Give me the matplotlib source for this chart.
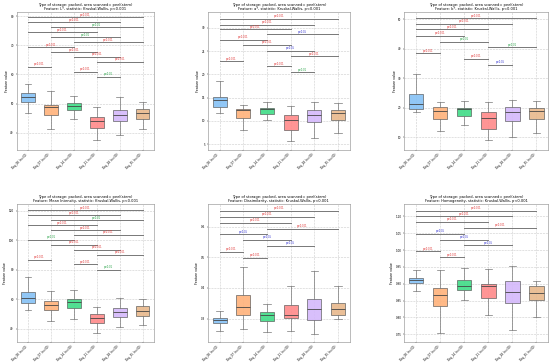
import numpy as np
import matplotlib
matplotlib.use('Agg')
import matplotlib.pyplot as plt

# ---- Data ----
GROUPS = ['Day_00 (n=30)', 'Day_07 (n=30)', 'Day_14 (n=30)',
          'Day_21 (n=30)', 'Day_28 (n=30)', 'Day_35 (n=30)']
FEATURES = ['L*', 'a*', 'b*', 'Mean Intensity', 'Dissimilarity', 'Homogeneity']

# per feature: whisker low, q1, median, q3, whisker high
whislo = [
    [46.9, 41.5, 44.7, 37.6, 39.3, 41.25],
    [11.7, 8.0, 10.2, 5.65, 6.4, 7.5],
    [18.7, 12.3, 14.2, 9.0, 10.1, 11.6],
    [52.5, 45.4, 46.6, 37.1, 41.1, 42.3],
    [0.260, 0.266, 0.255, 0.259, 0.250, 0.297],
    [0.878, 0.754, 0.853, 0.808, 0.764, 0.801],
]
q1 = [
    [50.5, 46.25, 47.8, 41.6, 44.0, 44.7],
    [12.9, 10.6, 11.5, 8.0, 9.7, 10.2],
    [19.6, 16.3, 17.2, 12.9, 15.5, 16.3],
    [57.4, 52.5, 54.0, 43.6, 47.7, 48.4],
    [0.285, 0.311, 0.293, 0.302, 0.294, 0.310],
    [0.901, 0.834, 0.881, 0.859, 0.842, 0.852],
]
med = [
    [52.3, 48.75, 49.1, 44.2, 46.0, 46.9],
    [14.5, 12.3, 12.5, 10.2, 11.3, 11.7],
    [21.4, 18.8, 19.5, 16.7, 18.7, 18.8],
    [61.1, 56.1, 57.9, 47.5, 51.6, 52.0],
    [0.295, 0.338, 0.313, 0.313, 0.331, 0.332],
    [0.912, 0.866, 0.894, 0.892, 0.875, 0.873],
]
q3 = [
    [53.5, 49.7, 50.3, 45.6, 47.7, 48.1],
    [15.2, 12.6, 12.8, 11.3, 12.4, 12.4],
    [24.6, 20.3, 19.9, 18.6, 20.4, 19.9],
    [64.7, 58.6, 60.2, 49.7, 53.8, 55.4],
    [0.302, 0.377, 0.322, 0.344, 0.363, 0.352],
    [0.917, 0.888, 0.910, 0.900, 0.908, 0.892],
]
whishi = [
    [56.6, 54.2, 52.8, 48.75, 52.4, 50.5],
    [18.65, 13.4, 14.0, 13.2, 14.0, 13.8],
    [31.5, 22.0, 22.5, 22.0, 22.8, 22.5],
    [74.9, 65.6, 66.3, 54.7, 61.1, 60.4],
    [0.326, 0.470, 0.349, 0.406, 0.455, 0.407],
    [0.942, 0.940, 0.948, 0.943, 0.952, 0.908],
]

# significant pairs: (group i, group j, bracket height, label)
pairs = [
    [(0, 5, 79.6, 'p<0.001'), (0, 4, 77.8, 'p<0.001'), (1, 5, 76.1, 'p<0.01'),
     (0, 3, 74.4, 'p<0.001'), (1, 4, 72.7, 'p<0.01'), (2, 5, 71.0, 'p<0.001'),
     (0, 2, 69.3, 'p<0.001'), (1, 3, 67.6, 'p<0.001'), (2, 4, 66.0, 'p<0.001'),
     (3, 5, 64.3, 'p<0.001'), (0, 1, 62.6, 'p<0.001'), (2, 3, 60.9, 'p<0.001'),
     (3, 4, 59.2, 'p<0.01')],
    [(0, 5, 31.9, 'p<0.001'), (0, 4, 30.6, 'p<0.001'), (0, 3, 29.7, 'p<0.001'),
     (2, 5, 28.6, 'p<0.05'), (0, 2, 27.4, 'p<0.001'), (1, 3, 26.3, 'p<0.001'),
     (2, 4, 25.1, 'p<0.05'), (3, 5, 23.9, 'p<0.001'), (0, 1, 22.8, 'p<0.001'),
     (2, 3, 21.7, 'p<0.001'), (3, 4, 20.5, 'p<0.01')],
    [(0, 5, 50.3, 'p<0.001'), (0, 4, 48.5, 'p<0.001'), (0, 3, 46.6, 'p<0.001'),
     (0, 2, 44.5, 'p<0.001'), (1, 3, 42.4, 'p<0.01'), (3, 5, 40.5, 'p<0.01'),
     (0, 1, 38.5, 'p<0.001'), (2, 3, 36.6, 'p<0.001'), (3, 4, 34.7, 'p<0.05')],
    [(0, 5, 120.5, 'p<0.001'), (0, 4, 117.1, 'p<0.001'), (1, 5, 113.7, 'p<0.01'),
     (0, 3, 110.3, 'p<0.001'), (1, 4, 106.9, 'p<0.001'), (2, 5, 103.7, 'p<0.001'),
     (0, 2, 100.3, 'p<0.01'), (1, 3, 96.9, 'p<0.001'), (2, 4, 93.7, 'p<0.001'),
     (3, 5, 90.3, 'p<0.001'), (0, 1, 86.9, 'p<0.001'), (2, 3, 83.7, 'p<0.001'),
     (3, 4, 80.1, 'p<0.01')],
    [(0, 5, 0.652, 'p<0.001'), (0, 4, 0.632, 'p<0.001'), (0, 3, 0.613, 'p<0.001'),
     (2, 5, 0.594, 'p<0.001'), (0, 2, 0.576, 'p<0.05'), (1, 3, 0.557, 'p<0.05'),
     (2, 4, 0.538, 'p<0.05'), (0, 1, 0.519, 'p<0.001'), (1, 2, 0.499, 'p<0.001')],
    [(0, 5, 1.116, 'p<0.001'), (0, 4, 1.100, 'p<0.001'), (0, 3, 1.083, 'p<0.001'),
     (2, 5, 1.066, 'p<0.001'), (0, 2, 1.049, 'p<0.05'), (1, 3, 1.031, 'p<0.05'),
     (2, 4, 1.014, 'p<0.05'), (0, 1, 0.996, 'p<0.001'), (1, 2, 0.979, 'p<0.001')],
]

ylims = [(34.2, 81.4), (3.8, 33.4), (5.8, 52.5),
         (30.9, 124.5), (0.223, 0.674), (0.727, 1.136)]
yticks = [
    [40, 50, 60, 70, 80],
    [5, 10, 15, 20, 25, 30],
    [10, 20, 30, 40, 50],
    [40, 60, 80, 100, 120],
    [0.3, 0.4, 0.5, 0.6],
    [0.75, 0.80, 0.85, 0.90, 0.95, 1.00, 1.05, 1.10],
]
ytick_fmt = ['{:.0f}', '{:.0f}', '{:.0f}', '{:.0f}', '{:.1f}', '{:.2f}']

BOX_COLORS = ['#85c1f5', '#ffb27a', '#3fdc86', '#ff8a8a', '#d4b8fb', '#e8b88c']
P_COLORS = {'p<0.001': '#e03030', 'p<0.01': '#20a040', 'p<0.05': '#3030d0'}

# axes placement (figure fraction), matches the 2x3 mosaic
positions = [
    [0.030, 0.586, 0.250, 0.381],
    [0.378, 0.586, 0.258, 0.381],
    [0.735, 0.586, 0.262, 0.381],
    [0.030, 0.055, 0.250, 0.381],
    [0.378, 0.055, 0.258, 0.381],
    [0.735, 0.055, 0.262, 0.381],
]

fig = plt.figure(figsize=(5.5, 3.62), dpi=100)

for k, feat in enumerate(FEATURES):
    ax = fig.add_axes(positions[k])
    stats = []
    for g in range(len(GROUPS)):
        stats.append({'med': med[k][g], 'q1': q1[k][g], 'q3': q3[k][g],
                      'whislo': whislo[k][g], 'whishi': whishi[k][g],
                      'fliers': []})
    bp = ax.bxp(stats, positions=np.arange(len(GROUPS)), widths=0.6,
                patch_artist=True, showfliers=False,
                boxprops=dict(edgecolor='#555555', linewidth=0.5),
                medianprops=dict(color='#444444', linewidth=0.6),
                whiskerprops=dict(color='#777777', linewidth=0.5),
                capprops=dict(color='#777777', linewidth=0.5))
    for patch, c in zip(bp['boxes'], BOX_COLORS):
        patch.set_facecolor(c)
        patch.set_alpha(0.9)

    span = ylims[k][1] - ylims[k][0]
    for i, j, h, lab in pairs[k]:
        ax.plot([i, j], [h, h], color='#777777', linewidth=0.7)
        ax.text((i + j) / 2, h + span * 0.004, lab, ha='center', va='bottom',
                fontsize=1.8, color=P_COLORS[lab])

    ax.set_ylim(*ylims[k])
    ax.set_xlim(-0.5, len(GROUPS) - 0.5)
    ax.set_yticks(yticks[k])
    ax.set_yticklabels([ytick_fmt[k].format(v) for v in yticks[k]], fontsize=2.0)
    ax.set_xticks(np.arange(len(GROUPS)))
    ax.set_xticklabels(GROUPS, rotation=45, ha='right', fontsize=2.0)
    ax.tick_params(length=1, width=0.3, pad=1)
    ax.set_ylabel('Feature value', fontsize=2.3, labelpad=1)
    ax.set_title('Type of storage: packed, area scanned= peel(stem)\n'
                 f'Feature: {feat}, statistic: Kruskal-Wallis, p<0.001',
                 fontsize=2.6, pad=1.5, linespacing=1.1)
    ax.grid(True, color='#cccccc', linestyle='--', linewidth=0.4)
    ax.set_axisbelow(True)
    for s in ax.spines.values():
        s.set_linewidth(0.4)
        s.set_color('#888888')

fig.savefig('out.png', dpi=100)
